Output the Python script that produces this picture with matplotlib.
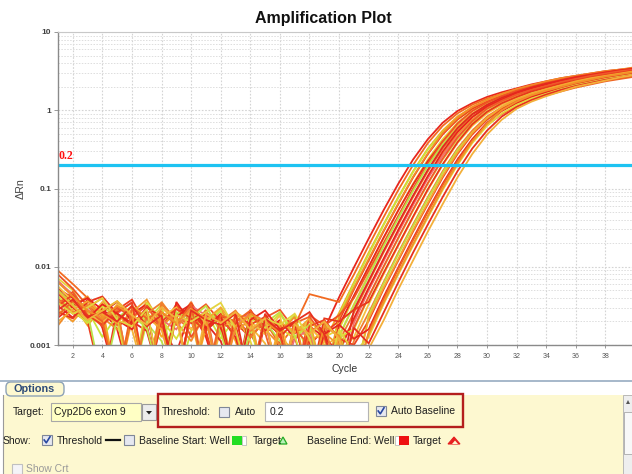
import matplotlib.pyplot as plt
from matplotlib.patches import Rectangle, FancyBboxPatch, Polygon
import numpy as np

cycles = np.arange(1, 41)
threshold = 0.2
threshold_text = '0.2'
target_name = 'Cyp2D6 exon 9'
x_ticks = list(range(2, 40, 2))
y_ticks = [0.001, 0.01, 0.1, 1, 10]
y_tick_labels = ['0.001', '0.01', '0.1', '1', '10']

# log10(dRn), cycles 1..40 (-3.5 = below the 0.001 floor)
well_01 = [-2.30, -2.45, -2.62, -2.55, -2.80, -3.50, -2.60, -2.75, -3.10, -2.55, -2.90, -3.50, -2.70, -2.85, -3.20, -2.95, -3.50,
           -3.00, -2.80, -2.39, -2.01, -1.64, -1.28, -0.94, -0.63, -0.37, -0.16, -0.01, 0.09, 0.17, 0.23, 0.28, 0.33, 0.37, 0.41, 0.44, 0.47, 0.50, 0.52, 0.54]
well_02 = [-2.05, -2.22, -2.40, -2.70, -2.50, -2.65, -3.50, -2.58, -2.72, -2.45, -2.80, -2.62, -3.50, -2.90, -2.70, -3.00, -2.75,
           -2.35, -2.40, -2.45, -2.10, -1.73, -1.37, -1.02, -0.70, -0.42, -0.20, -0.04, 0.07, 0.15, 0.21, 0.27, 0.32, 0.36, 0.40, 0.43, 0.46, 0.49, 0.51, 0.53]
well_03 = [-2.60, -2.48, -2.75, -2.52, -3.50, -2.68, -2.45, -2.90, -2.60, -3.50, -2.78, -2.55, -2.95, -3.50, -2.66, -2.88, -3.10, -3.50,
           -2.95, -2.59, -2.20, -1.82, -1.46, -1.11, -0.78, -0.49, -0.26, -0.08, 0.04, 0.13, 0.20, 0.26, 0.31, 0.35, 0.39, 0.42, 0.45, 0.48, 0.51, 0.53]
well_04 = [-2.20, -2.35, -2.55, -2.90, -2.62, -3.50, -2.70, -2.48, -3.50, -2.82, -2.58, -2.92, -2.65, -2.75, -3.50, -2.80, -2.62, -3.20,
           -3.50, -2.62, -2.22, -1.84, -1.47, -1.12, -0.79, -0.50, -0.28, -0.11, 0.01, 0.10, 0.17, 0.23, 0.28, 0.32, 0.36, 0.39, 0.42, 0.45, 0.48, 0.50]
well_05 = [-2.40, -2.58, -2.70, -3.50, -2.55, -2.42, -2.75, -3.50, -2.50, -2.62, -2.85, -3.50, -2.72, -2.90, -2.68, -3.50, -2.85, -2.70,
           -2.85, -2.69, -2.29, -1.92, -1.55, -1.20, -0.86, -0.56, -0.31, -0.12, 0.02, 0.11, 0.18, 0.24, 0.30, 0.34, 0.38, 0.42, 0.45, 0.48, 0.50, 0.52]
well_06 = [-2.75, -2.50, -2.38, -2.65, -2.80, -2.55, -3.50, -2.45, -2.70, -2.95, -2.58, -2.72, -3.50, -2.62, -2.80, -3.00, -3.50, -2.90,
           -3.50, -2.65, -2.27, -1.90, -1.54, -1.19, -0.85, -0.55, -0.29, -0.10, 0.04, 0.13, 0.21, 0.27, 0.32, 0.37, 0.41, 0.44, 0.47, 0.50, 0.52, 0.55]
well_07 = [-2.15, -2.30, -2.62, -2.48, -2.70, -3.50, -2.58, -2.80, -2.52, -2.66, -3.50, -2.74, -2.60, -2.95, -3.50, -2.78, -2.92, -2.68,
           -2.90, -2.80, -2.39, -2.01, -1.64, -1.28, -0.94, -0.63, -0.37, -0.16, -0.01, 0.09, 0.17, 0.23, 0.28, 0.33, 0.37, 0.41, 0.44, 0.47, 0.50, 0.52]
well_08 = [-2.50, -2.65, -2.42, -2.78, -3.50, -2.60, -2.48, -2.70, -3.50, -2.55, -2.82, -2.64, -2.90, -3.50, -2.72, -2.85, -3.50, -2.95,
           -3.50, -2.75, -2.37, -2.00, -1.63, -1.28, -0.95, -0.65, -0.40, -0.20, -0.05, 0.05, 0.12, 0.18, 0.23, 0.28, 0.32, 0.36, 0.39, 0.42, 0.45, 0.47]
well_09 = [-2.35, -2.52, -2.68, -2.45, -2.60, -2.80, -3.50, -2.52, -2.70, -2.58, -3.50, -2.80, -2.65, -2.76, -2.98, -3.50, -2.80, -2.74,
           -3.00, -2.90, -2.48, -2.10, -1.73, -1.37, -1.02, -0.70, -0.42, -0.20, -0.04, 0.07, 0.15, 0.21, 0.27, 0.32, 0.36, 0.40, 0.43, 0.46, 0.49, 0.51]
well_10 = [-2.10, -2.28, -2.50, -2.72, -2.55, -3.50, -2.62, -2.78, -2.48, -2.90, -2.60, -3.50, -2.70, -2.58, -2.85, -2.70, -3.50, -2.62,
           -2.75, -2.62, -2.40, -2.05, -1.70, -1.35, -1.00, -0.68, -0.40, -0.17, -0.01, 0.10, 0.18, 0.25, 0.30, 0.35, 0.39, 0.43, 0.46, 0.49, 0.51, 0.54]
well_11 = [-2.62, -2.44, -2.58, -3.50, -2.66, -2.50, -2.72, -2.95, -3.50, -2.60, -2.74, -2.56, -3.50, -2.82, -2.70, -2.95, -3.20, -3.50,
           -3.50, -2.88, -2.50, -2.12, -1.74, -1.38, -1.03, -0.71, -0.44, -0.23, -0.08, 0.02, 0.10, 0.16, 0.22, 0.27, 0.31, 0.35, 0.38, 0.41, 0.44, 0.46]
well_12 = [-2.45, -2.60, -2.52, -2.40, -2.75, -2.62, -3.50, -2.48, -2.66, -2.80, -2.55, -3.50, -2.62, -2.90, -2.68, -3.50, -2.75, -2.88, -3.50,
           -2.95, -2.59, -2.20, -1.82, -1.46, -1.11, -0.78, -0.49, -0.26, -0.08, 0.04, 0.13, 0.20, 0.26, 0.31, 0.35, 0.39, 0.42, 0.45, 0.48, 0.51]
well_13 = [-2.28, -2.40, -2.66, -2.58, -2.45, -2.70, -2.82, -3.50, -2.60, -2.48, -2.72, -2.95, -3.50, -2.64, -2.78, -2.70, -2.90, -3.50, -2.80,
           -3.50, -2.55, -2.18, -1.80, -1.44, -1.09, -0.76, -0.47, -0.23, -0.05, 0.07, 0.16, 0.23, 0.29, 0.34, 0.38, 0.42, 0.45, 0.48, 0.51, 0.53]
well_14 = [-2.55, -2.70, -2.48, -2.62, -3.50, -2.58, -2.42, -2.75, -2.60, -3.50, -2.70, -2.54, -2.85, -2.66, -3.50, -2.80, -2.72, -2.94, -2.85,
           -3.00, -2.69, -2.29, -1.92, -1.55, -1.20, -0.86, -0.56, -0.31, -0.12, 0.02, 0.11, 0.18, 0.24, 0.30, 0.34, 0.38, 0.42, 0.45, 0.48, 0.50]
well_15 = [-2.18, -2.36, -2.55, -2.70, -2.60, -2.45, -3.50, -2.68, -2.80, -2.50, -2.62, -3.50, -2.76, -2.58, -2.70, -3.50, -2.92, -2.80, -3.50,
           -3.50, -2.72, -2.30, -1.93, -1.56, -1.21, -0.87, -0.58, -0.34, -0.15, -0.02, 0.07, 0.14, 0.20, 0.25, 0.30, 0.34, 0.37, 0.40, 0.43, 0.46]
well_16 = [-2.65, -2.50, -2.40, -2.55, -2.68, -2.80, -2.56, -3.50, -2.45, -2.72, -2.60, -2.78, -3.50, -2.55, -2.82, -2.68, -3.50, -2.76, -2.90,
           -3.10, -2.66, -2.27, -1.90, -1.53, -1.18, -0.84, -0.53, -0.28, -0.09, 0.05, 0.14, 0.22, 0.28, 0.33, 0.38, 0.42, 0.45, 0.48, 0.51, 0.53]
well_17 = [-2.38, -2.56, -2.72, -2.50, -2.62, -3.50, -2.46, -2.68, -2.92, -2.58, -2.70, -2.55, -3.50, -2.66, -2.78, -2.60, -2.88, -3.50, -2.72,
           -2.90, -2.80, -2.39, -2.01, -1.64, -1.28, -0.94, -0.63, -0.37, -0.16, -0.01, 0.09, 0.17, 0.23, 0.28, 0.33, 0.37, 0.41, 0.44, 0.47, 0.50]
well_18 = [-2.48, -2.32, -2.60, -2.76, -2.52, -2.64, -2.50, -2.78, -3.50, -2.62, -2.48, -2.70, -2.84, -3.50, -2.65, -2.55, -2.80, -3.00, -3.50,
           -3.50, -2.78, -2.38, -2.00, -1.63, -1.27, -0.93, -0.62, -0.35, -0.14, 0.02, 0.12, 0.20, 0.26, 0.31, 0.36, 0.40, 0.44, 0.47, 0.50, 0.52]
well_19 = [-2.25, -2.44, -2.60, -2.72, -2.48, -2.58, -3.50, -2.64, -2.52, -2.80, -2.68, -3.50, -2.58, -2.70, -2.86, -2.62, -3.50, -2.78, -2.95,
           -3.10, -2.90, -2.48, -2.10, -1.73, -1.37, -1.02, -0.70, -0.42, -0.20, -0.04, 0.07, 0.15, 0.21, 0.27, 0.32, 0.36, 0.40, 0.43, 0.46, 0.49]
well_20 = [-2.58, -2.66, -2.45, -2.38, -2.60, -2.75, -2.52, -2.64, -3.50, -2.56, -2.80, -2.62, -2.74, -3.50, -2.60, -2.90, -2.70, -3.50, -2.66,
           -2.70, -2.55, -2.45, -2.08, -1.72, -1.36, -1.01, -0.69, -0.41, -0.18, -0.02, 0.09, 0.17, 0.24, 0.29, 0.34, 0.38, 0.42, 0.45, 0.48, 0.51]
well_21 = [-2.42, -2.58, -2.50, -2.68, -2.55, -3.50, -2.60, -2.46, -2.74, -2.62, -3.50, -2.70, -2.56, -2.82, -2.68, -2.76, -3.50, -2.84, -2.70, -3.50,
           -2.95, -2.59, -2.20, -1.82, -1.46, -1.11, -0.78, -0.49, -0.26, -0.08, 0.04, 0.13, 0.20, 0.26, 0.31, 0.35, 0.39, 0.42, 0.45, 0.48]
well_22 = [-2.30, -2.48, -2.70, -2.56, -2.44, -2.62, -2.78, -3.50, -2.58, -2.66, -2.50, -2.84, -3.50, -2.62, -2.72, -2.58, -2.90, -2.74, -3.50, -2.82,
           -3.50, -2.62, -2.22, -1.84, -1.48, -1.13, -0.80, -0.51, -0.29, -0.12, 0.00, 0.09, 0.16, 0.22, 0.27, 0.31, 0.35, 0.38, 0.41, 0.44]
well_23 = [-2.50, -2.36, -2.62, -2.74, -2.58, -2.46, -3.50, -2.70, -2.54, -2.66, -2.82, -3.50, -2.60, -2.74, -2.64, -2.88, -3.50, -2.76, -2.68, -2.92,
           -3.00, -2.69, -2.29, -1.92, -1.55, -1.20, -0.86, -0.56, -0.31, -0.12, 0.02, 0.11, 0.18, 0.24, 0.30, 0.34, 0.38, 0.42, 0.45, 0.48]
well_24 = [-2.70, -2.55, -2.44, -2.60, -2.72, -2.50, -2.64, -2.80, -3.50, -2.58, -2.68, -2.52, -2.76, -2.62, -3.50, -2.70, -2.84, -2.66, -3.50, -2.88,
           -3.50, -2.66, -2.27, -1.90, -1.53, -1.18, -0.84, -0.54, -0.29, -0.10, 0.04, 0.14, 0.21, 0.27, 0.32, 0.37, 0.41, 0.44, 0.47, 0.50]
well_25 = [-2.34, -2.52, -2.66, -2.48, -2.60, -2.72, -2.56, -3.50, -2.64, -2.50, -2.78, -2.60, -3.50, -2.68, -2.56, -2.80, -2.70, -3.50, -2.86, -2.74,
           -2.92, -2.80, -2.39, -2.01, -1.64, -1.28, -0.94, -0.63, -0.37, -0.16, -0.01, 0.09, 0.17, 0.23, 0.28, 0.33, 0.37, 0.41, 0.44, 0.47]
well_26 = [-2.62, -2.44, -2.56, -2.70, -3.50, -2.52, -2.66, -2.58, -2.74, -2.48, -3.50, -2.62, -2.70, -2.56, -2.84, -3.50, -2.72, -2.64, -2.90, -3.50,
           -3.50, -2.84, -2.42, -2.03, -1.66, -1.30, -0.96, -0.65, -0.39, -0.19, -0.05, 0.05, 0.13, 0.19, 0.24, 0.29, 0.33, 0.37, 0.40, 0.43]
well_27 = [-2.46, -2.60, -2.52, -2.40, -2.68, -2.76, -2.54, -3.50, -2.62, -2.70, -2.58, -2.46, -2.80, -3.50, -2.66, -2.74, -2.60, -2.92, -3.50, -2.80,
           -3.10, -2.90, -2.48, -2.10, -1.73, -1.37, -1.02, -0.70, -0.42, -0.20, -0.04, 0.07, 0.15, 0.21, 0.27, 0.32, 0.36, 0.40, 0.43, 0.46]
well_28 = [-2.20, -2.38, -2.56, -2.66, -2.50, -2.62, -3.50, -2.58, -2.72, -2.54, -2.66, -3.50, -2.78, -2.60, -2.70, -2.84, -2.64, -3.50, -2.76, -2.88,
           -3.50, -2.86, -2.46, -2.08, -1.71, -1.35, -1.00, -0.68, -0.40, -0.17, 0.00, 0.11, 0.19, 0.25, 0.30, 0.35, 0.39, 0.43, 0.46, 0.49]
well_29 = [-2.55, -2.42, -2.64, -2.58, -2.70, -2.50, -2.76, -2.62, -3.50, -2.56, -2.68, -2.74, -2.60, -3.50, -2.66, -2.82, -2.70, -2.58, -2.86, -3.50, -2.78,
           -2.98, -2.59, -2.20, -1.82, -1.46, -1.11, -0.78, -0.49, -0.26, -0.08, 0.04, 0.13, 0.20, 0.26, 0.31, 0.35, 0.39, 0.42, 0.45]
well_30 = [-2.32, -2.50, -2.68, -2.56, -2.44, -2.62, -2.74, -2.52, -2.66, -3.50, -2.60, -2.72, -2.58, -2.80, -2.66, -3.50, -2.74, -2.86, -2.70, -2.92, -3.50,
           -3.05, -2.69, -2.29, -1.92, -1.55, -1.20, -0.86, -0.56, -0.31, -0.12, 0.02, 0.11, 0.18, 0.24, 0.30, 0.34, 0.38, 0.42, 0.45]

wells = [well_01, well_02, well_03, well_04, well_05, well_06, well_07, well_08, well_09, well_10,
         well_11, well_12, well_13, well_14, well_15, well_16, well_17, well_18, well_19, well_20,
         well_21, well_22, well_23, well_24, well_25, well_26, well_27, well_28, well_29, well_30]

well_colors = ['#e8261c', '#f26b21', '#f5a623', '#c9e43a', '#ee3d1f', '#f28c28', '#e6d53a', '#e8261c',
               '#f4b63a', '#ef5323', '#b9e24a', '#f07a2a', '#e02a20', '#f39a2b', '#f07070', '#e8261c',
               '#d8e03c', '#f0582a', '#f5c040', '#e8361c', '#f08030', '#c4e040', '#ee4420', '#f4a830',
               '#e8261c', '#ef6424', '#e4d440', '#f29028', '#e63020', '#f3b03a']

W, H = 632, 474
fig = plt.figure(figsize=(W / 100, H / 100), dpi=100)

# ---- options panel (drawn in pixel coords) ----
ui = fig.add_axes([0, 0, 1, 1])
ui.set_xlim(0, W)
ui.set_ylim(H, 0)
ui.axis('off')

ui_font = dict(family='Liberation Sans', fontsize=7.5, color='#1e1e1e', va='center')

ui.add_patch(Rectangle((3, 395), W, 80, facecolor='#fdf8d0', edgecolor='none'))
ui.plot([0, W], [381, 381], color='#9fb2c6', lw=1.3)
ui.plot([3, 3], [395, H], color='#9a9a9a', lw=0.8)
ui.add_patch(FancyBboxPatch((6, 382), 58, 14, boxstyle='round,pad=0,rounding_size=5',
                            facecolor='#fdf8d0', edgecolor='#8ea2b6', lw=1))
ui.text(14, 389, 'Options', family='Liberation Sans', fontsize=7.8, fontweight='bold',
        color='#2d4b78', va='center')

# scroll bar
ui.add_patch(Rectangle((623, 395), 9, 79, facecolor='#eeeeee', edgecolor='#b0b0b0', lw=0.6))
ui.add_patch(Rectangle((624, 412), 8, 42, facecolor='#f8f8f8', edgecolor='#a8a8a8', lw=0.6))
ui.add_patch(Polygon([(626, 404), (628, 400), (630, 404)], closed=True, facecolor='#555555'))


def checkbox(x, y, checked=False, grey=False):
    ui.add_patch(Rectangle((x, y - 5), 10, 10, facecolor='#f4f4f8' if grey else '#e6e8f0',
                           edgecolor='#c0c0c0' if grey else '#7f8798', lw=0.8))
    if checked:
        ui.plot([x + 2.2, x + 4.3, x + 8], [y, y + 2.8, y - 3.2], color='#2848a0', lw=1.2)


# row 1
ui.text(13, 412, 'Target:', **ui_font)
ui.add_patch(Rectangle((51, 403), 90, 18, facecolor='#ffffc4', edgecolor='#a8a8a8', lw=0.8))
ui.text(54, 412, target_name, **ui_font)
ui.add_patch(Rectangle((142, 404), 14, 16, facecolor='#ececec', edgecolor='#9a9a9a', lw=0.8))
ui.add_patch(Polygon([(146, 411), (149, 414.5), (152, 411)], closed=True, facecolor='#202020'))
ui.add_patch(Rectangle((158, 394), 305, 33, facecolor='none', edgecolor='#b41e1e', lw=1.7))
ui.text(162, 412, 'Threshold:', **ui_font)
checkbox(219, 412)
ui.text(235, 412, 'Auto', **ui_font)
ui.add_patch(Rectangle((265, 402), 103, 19, facecolor='white', edgecolor='#b4b4b4', lw=0.8))
ui.text(270, 412, threshold_text, **ui_font)
checkbox(376, 411, checked=True)
ui.text(391, 411, 'Auto Baseline', **ui_font)

# row 2
ui.text(3, 441, 'Show:', **ui_font)
checkbox(42, 440, checked=True)
ui.text(57, 441, 'Threshold', **ui_font)
ui.plot([106, 120], [440, 440], color='#111111', lw=1.6)
checkbox(124, 440)
ui.text(139, 441, 'Baseline Start: Well', **ui_font)
ui.add_patch(Rectangle((232, 436), 10, 9, facecolor='#22dd22', edgecolor='none'))
ui.add_patch(Rectangle((242, 436), 4, 9, facecolor='white', edgecolor='#b0b0b0', lw=0.5))
ui.text(253, 441, 'Target', **ui_font)
ui.add_patch(Polygon([(279, 444), (283, 437), (287, 444)], closed=True,
                     facecolor='#b8f0b8', edgecolor='#22aa22', lw=0.9))
ui.text(307, 441, 'Baseline End: Well', **ui_font)
ui.add_patch(Rectangle((395, 436), 4, 9, facecolor='white', edgecolor='#b0b0b0', lw=0.5))
ui.add_patch(Rectangle((399, 436), 10, 9, facecolor='#ee1111', edgecolor='none'))
ui.text(413, 441, 'Target', **ui_font)
ui.add_patch(Polygon([(448, 444), (454, 437), (460, 444)], closed=True,
                     facecolor='#e62020', edgecolor='#e62020', lw=0.8))
ui.add_patch(Polygon([(452, 444), (455, 440.5), (458, 444)], closed=True, facecolor='#fdf8d0'))

# row 3
checkbox(12, 469, grey=True)
ui.text(26, 469, 'Show Crt', family='Liberation Sans', fontsize=7.5, color='#9a9a9a', va='center')

# ---- amplification plot ----
fig.text(323 / W, 1 - 19 / H, 'Amplification Plot', ha='center', va='center',
         family='Liberation Sans', fontsize=11.5, fontweight='bold', color='#111111')

ax = fig.add_axes([58 / W, 1 - 345 / H, 1 - 58 / W, 313 / H])
ax.set_facecolor('white')
for vals, col in zip(wells, well_colors):
    ax.plot(cycles, 10 ** np.array(vals), color=col, lw=1.3, solid_joinstyle='miter')
ax.axhline(threshold, color='#1ec3f2', lw=2.3)
ax.text(1.05, threshold * 1.1, threshold_text, color='#ff1010', fontweight='bold',
        family='Liberation Serif', fontsize=8.5, va='bottom', ha='left')

ax.set_yscale('log')
ax.set_ylim(0.001, 10)
ax.set_xlim(1, 39.8)
ax.set_xticks(x_ticks)
ax.set_xticklabels([str(t) for t in x_ticks], fontsize=5, color='#555555', family='Liberation Sans')
ax.set_yticks(y_ticks)
ax.set_yticklabels(y_tick_labels, fontsize=6, color='#404040', fontweight='bold', family='Liberation Sans')
ax.tick_params(axis='x', which='major', length=2.5, width=0.6, color='#888888', pad=3)
ax.tick_params(axis='y', which='major', length=3, width=0.6, color='#888888', pad=2)
ax.tick_params(axis='y', which='minor', length=0)
ax.set_axisbelow(True)
ax.grid(which='major', color='#d4d4d4', ls=(0, (1.5, 1.5)), lw=0.8)
ax.grid(which='minor', axis='y', color='#dddddd', ls=(0, (1.5, 1.5)), lw=0.7)
for s in ['left', 'bottom']:
    ax.spines[s].set_color('#8a8a8a')
    ax.spines[s].set_linewidth(1.0)
ax.spines['top'].set_color('#c8c8c8')
ax.spines['right'].set_visible(False)
ax.set_xlabel('Cycle', fontsize=7.5, color='#333333', family='Liberation Sans', labelpad=3)
ax.set_ylabel('\u0394Rn', fontsize=7.7, color='#444444', family='Liberation Sans', labelpad=3)

fig.savefig('out.png', dpi=100)
